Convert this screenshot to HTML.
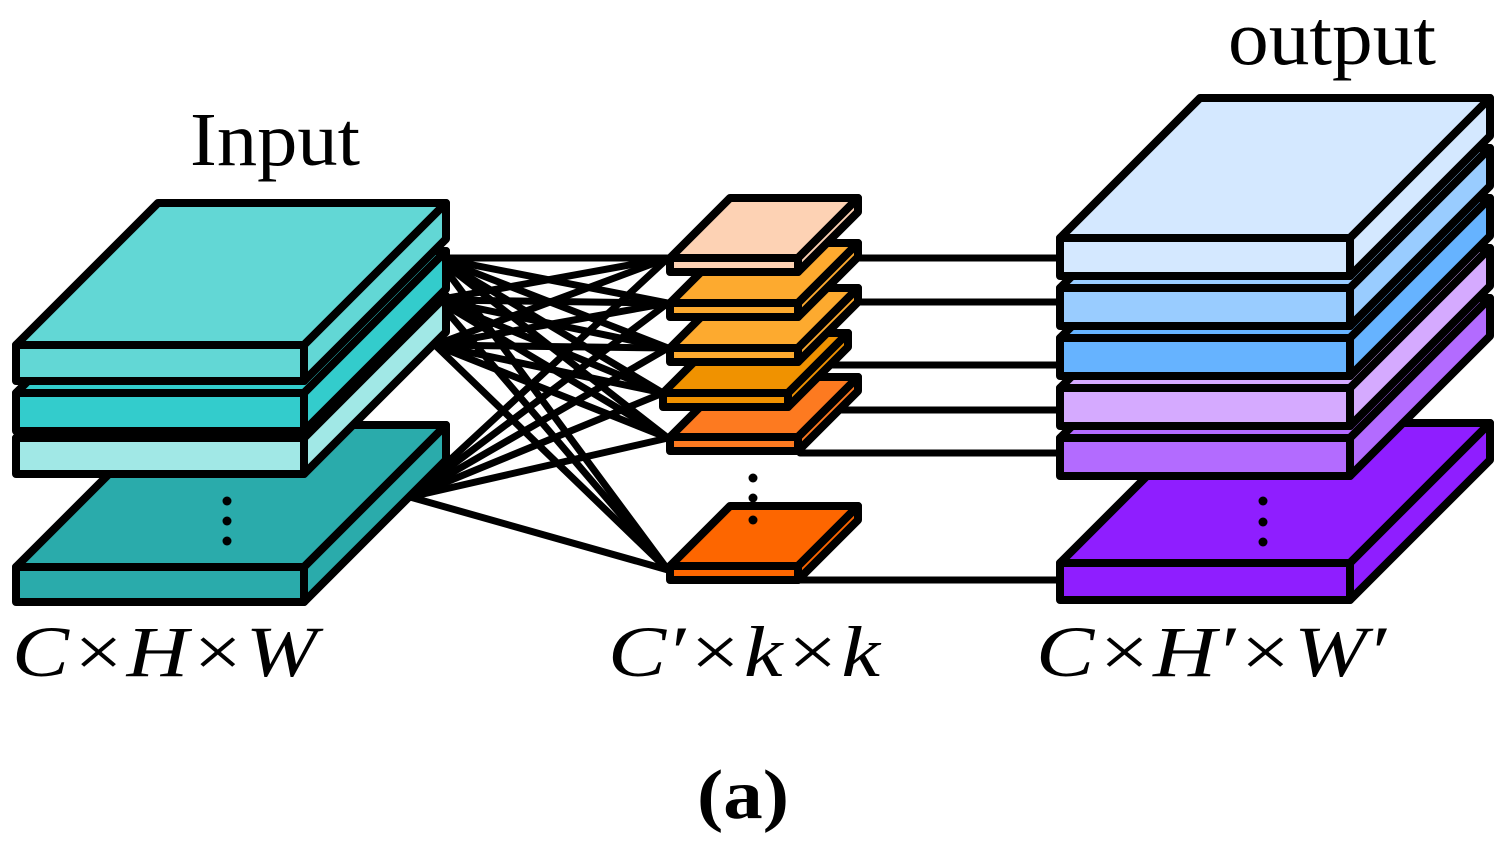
<!DOCTYPE html>
<html><head><meta charset="utf-8"><style>html,body{margin:0;padding:0;background:#fff}svg{display:block}</style></head>
<body>
<svg width="1504" height="847" viewBox="0 0 1504 847" xmlns="http://www.w3.org/2000/svg">
<g stroke="#000" stroke-width="7" stroke-linecap="round">
<line x1="437" y1="258" x2="668" y2="258"/><line x1="437" y1="258" x2="668" y2="303"/><line x1="437" y1="258" x2="668" y2="348"/><line x1="437" y1="258" x2="663" y2="393"/><line x1="437" y1="258" x2="668" y2="438"/><line x1="437" y1="258" x2="668" y2="570"/>
<line x1="437" y1="300" x2="668" y2="258"/><line x1="437" y1="300" x2="668" y2="303"/><line x1="437" y1="300" x2="668" y2="348"/><line x1="437" y1="300" x2="663" y2="393"/><line x1="437" y1="300" x2="668" y2="438"/><line x1="437" y1="300" x2="668" y2="570"/>
<line x1="435" y1="345" x2="668" y2="258"/><line x1="435" y1="345" x2="668" y2="303"/><line x1="435" y1="345" x2="668" y2="348"/><line x1="435" y1="345" x2="663" y2="393"/><line x1="435" y1="345" x2="668" y2="438"/><line x1="435" y1="345" x2="668" y2="570"/>
<line x1="410" y1="497" x2="668" y2="258"/><line x1="410" y1="497" x2="668" y2="303"/><line x1="410" y1="497" x2="668" y2="348"/><line x1="410" y1="497" x2="663" y2="393"/><line x1="410" y1="497" x2="668" y2="438"/><line x1="410" y1="497" x2="668" y2="570"/>
<line x1="800" y1="258" x2="1060" y2="258"/><line x1="800" y1="302" x2="1060" y2="302"/><line x1="800" y1="365" x2="1060" y2="365"/><line x1="800" y1="410" x2="1060" y2="410"/><line x1="800" y1="453" x2="1060" y2="453"/><line x1="800" y1="580" x2="1060" y2="580"/>
</g>
<g stroke="#000" stroke-width="8" stroke-linejoin="round">
<g fill="#2aabab"><polygon points="16,567 158,425 446,425 304,567"/><polygon points="304,567 446,425 446,460 304,602"/><rect x="16" y="567" width="288" height="35"/></g>
<g fill="#a1e8e6"><polygon points="16,438 158,296 446,296 304,438"/><polygon points="304,438 446,296 446,332 304,474"/><rect x="16" y="438" width="288" height="36"/></g>
<g fill="#33cccc"><polygon points="16,393 158,251 446,251 304,393"/><polygon points="304,393 446,251 446,289 304,431"/><rect x="16" y="393" width="288" height="38"/></g>
<g fill="#62d7d5"><polygon points="16,345 158,203 446,203 304,345"/><polygon points="304,345 446,203 446,239 304,381"/><rect x="16" y="345" width="288" height="36"/></g>
<g fill="#fd6600"><polygon points="670,566 730,506 858,506 798,566"/><polygon points="798,566 858,506 858,520 798,580"/><rect x="670" y="566" width="128" height="14"/></g>
<g fill="#fd7a20"><polygon points="670,437 730,377 858,377 798,437"/><polygon points="798,437 858,377 858,391 798,451"/><rect x="670" y="437" width="128" height="14"/></g>
<g fill="#f09200"><polygon points="663,393 723,333 848,333 788,393"/><polygon points="788,393 848,333 848,347 788,407"/><rect x="663" y="393" width="125" height="14"/></g>
<g fill="#fdaa2f"><polygon points="670,348 730,288 858,288 798,348"/><polygon points="798,348 858,288 858,302 798,362"/><rect x="670" y="348" width="128" height="14"/></g>
<g fill="#fdaa2f"><polygon points="670,303 730,243 858,243 798,303"/><polygon points="798,303 858,243 858,257 798,317"/><rect x="670" y="303" width="128" height="14"/></g>
<g fill="#fdd2b4"><polygon points="670,258 730,198 858,198 798,258"/><polygon points="798,258 858,198 858,212 798,272"/><rect x="670" y="258" width="128" height="14"/></g>
<g fill="#8f1eff"><polygon points="1060,563 1200,423 1490,423 1350,563"/><polygon points="1350,563 1490,423 1490,460 1350,600"/><rect x="1060" y="563" width="290" height="37"/></g>
<g fill="#b36bff"><polygon points="1060,438 1200,298 1490,298 1350,438"/><polygon points="1350,438 1490,298 1490,336 1350,476"/><rect x="1060" y="438" width="290" height="38"/></g>
<g fill="#d5aaff"><polygon points="1060,388 1200,248 1490,248 1350,388"/><polygon points="1350,388 1490,248 1490,286 1350,426"/><rect x="1060" y="388" width="290" height="38"/></g>
<g fill="#66b3ff"><polygon points="1060,338 1200,198 1490,198 1350,338"/><polygon points="1350,338 1490,198 1490,236 1350,376"/><rect x="1060" y="338" width="290" height="38"/></g>
<g fill="#99ccff"><polygon points="1060,288 1200,148 1490,148 1350,288"/><polygon points="1350,288 1490,148 1490,186 1350,326"/><rect x="1060" y="288" width="290" height="38"/></g>
<g fill="#d4e8ff"><polygon points="1060,238 1200,98 1490,98 1350,238"/><polygon points="1350,238 1490,98 1490,136 1350,276"/><rect x="1060" y="238" width="290" height="38"/></g>
</g>
<g fill="#000">
<circle cx="227" cy="501" r="4.5"/><circle cx="227" cy="521" r="4.5"/><circle cx="227" cy="541" r="4.5"/>
<circle cx="753" cy="478" r="4.5"/><circle cx="753" cy="498" r="4.5"/><circle cx="753" cy="520" r="4.5"/>
<circle cx="1263" cy="501" r="4.5"/><circle cx="1263" cy="522" r="4.5"/><circle cx="1263" cy="542" r="4.5"/>
</g>
<g font-family="'Liberation Serif', serif" fill="#000">
<text x="190" y="165" font-size="76" textLength="170" lengthAdjust="spacingAndGlyphs">Input</text>
<text x="1228" y="64" font-size="78" textLength="208" lengthAdjust="spacingAndGlyphs">output</text>
<text x="12" y="676" font-size="72" font-style="italic" textLength="305" lengthAdjust="spacingAndGlyphs">C×H×W</text>
<text x="608" y="676" font-size="72" font-style="italic" textLength="272" lengthAdjust="spacingAndGlyphs">C′×k×k</text>
<text x="1036" y="676" font-size="72" font-style="italic" textLength="350" lengthAdjust="spacingAndGlyphs">C×H′×W′</text>
<text x="697" y="818" font-size="70" font-weight="bold" textLength="92" lengthAdjust="spacingAndGlyphs">(a)</text>
</g>
</svg>
</body></html>
